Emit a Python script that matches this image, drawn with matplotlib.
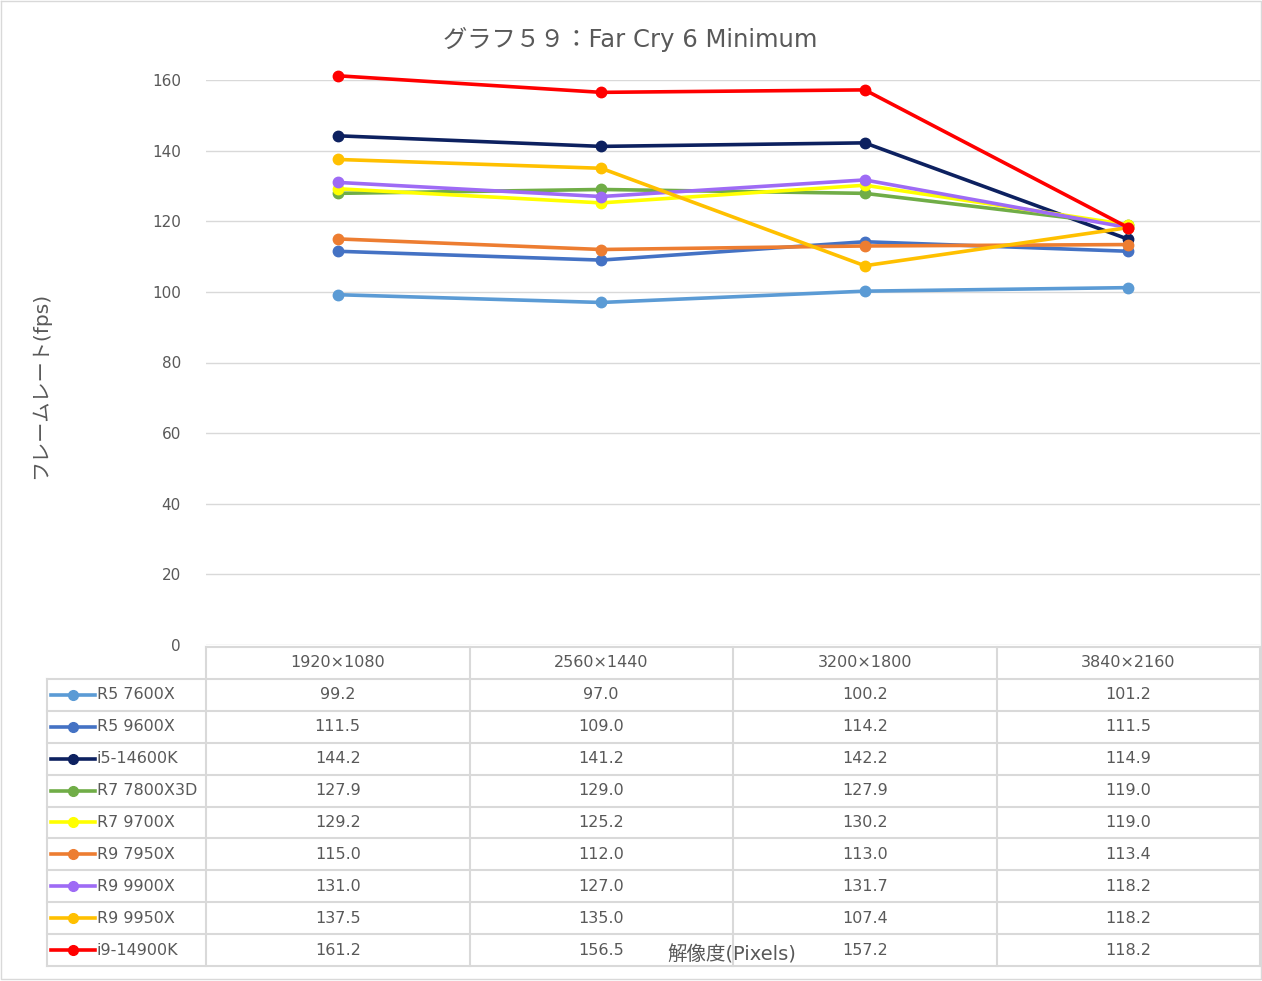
import numpy as np
import matplotlib
matplotlib.use('Agg')
import matplotlib.pyplot as plt
from matplotlib.lines import Line2D

plt.rcParams['font.family'] = ['DejaVu Sans', 'Noto Sans CJK JP']

# data
resolutions = ['1920×1080', '2560×1440', '3200×1800', '3840×2160']
cpus = ['R5 7600X', 'R5 9600X', 'i5-14600K', 'R7 7800X3D', 'R7 9700X',
        'R9 7950X', 'R9 9900X', 'R9 9950X', 'i9-14900K']
r5_7600x = [99.2, 97.0, 100.2, 101.2]
r5_9600x = [111.5, 109.0, 114.2, 111.5]
i5_14600k = [144.2, 141.2, 142.2, 114.9]
r7_7800x3d = [127.9, 129.0, 127.9, 119.0]
r7_9700x = [129.2, 125.2, 130.2, 119.0]
r9_7950x = [115.0, 112.0, 113.0, 113.4]
r9_9900x = [131.0, 127.0, 131.7, 118.2]
r9_9950x = [137.5, 135.0, 107.4, 118.2]
i9_14900k = [161.2, 156.5, 157.2, 118.2]
series = [r5_7600x, r5_9600x, i5_14600k, r7_7800x3d, r7_9700x,
          r9_7950x, r9_9900x, r9_9950x, i9_14900k]
colors = ['#5B9BD5', '#4472C4', '#0D2160', '#70AD47', '#FFFF00',
          '#ED7D31', '#9E6BF5', '#FFC000', '#FF0000']

W, H = 1262, 981
fig = plt.figure(figsize=(W / 100, H / 100), dpi=100)
txt = '#595959'
grid = '#D9D9D9'
fs = 11.5

# plot area in pixels
pl, pr, pt, pb = 206, 1260, 80, 645
ax = fig.add_axes([pl / W, 1 - pb / H, (pr - pl) / W, (pb - pt) / H])
x = np.arange(len(resolutions))
for vals, c in zip(series, colors):
    ax.plot(x, vals, color=c, lw=2.6, marker='o', ms=7.5, clip_on=False, zorder=3)
ax.set_xlim(-0.5, len(resolutions) - 0.5)
ax.set_ylim(0, 160)
ax.set_yticks(np.arange(0, 161, 20))
ax.set_xticks([])
ax.tick_params(axis='y', length=0, labelsize=11, labelcolor=txt, pad=18)
ax.grid(axis='y', color=grid, lw=1)
for s in ax.spines.values():
    s.set_visible(False)
ax.set_axisbelow(True)

fig.text(630 / W, 1 - 39 / H, 'グラフ５９：Far Cry 6 Minimum', ha='center', va='center',
         fontsize=17.5, color=txt)
fig.text(40 / W, 1 - 385 / H, 'フレームレート(fps)', ha='center', va='center',
         rotation=90, fontsize=14.5, color=txt)

# data table (overlay in pixel coords)
ov = fig.add_axes([0, 0, 1, 1], zorder=-1)
ov.set_xlim(0, W)
ov.set_ylim(H, 0)
ov.axis('off')
ov.patch.set_alpha(0)

col_w = (pr - pl) / len(resolutions)
leg_l = 47
top = 647
row_h = 31.9
n_rows = len(cpus) + 1
bottom = top + row_h * n_rows
lk = dict(color=grid, lw=1.5)
ov.plot([pl, pr], [top, top], **lk)
for k in range(1, n_rows + 1):
    yy = top + row_h * k
    ov.plot([leg_l, pr], [yy, yy], **lk)
ov.plot([leg_l, leg_l], [top + row_h, bottom], **lk)
for j in range(len(resolutions) + 1):
    xx = pl + col_w * j
    ov.plot([xx, xx], [top, bottom], **lk)

for j, r in enumerate(resolutions):
    ov.text(pl + col_w * (j + 0.5), top + row_h / 2, r, ha='center', va='center',
            fontsize=fs, color=txt)
for i, (name, vals, c) in enumerate(zip(cpus, series, colors)):
    yc = top + row_h * (i + 1.5)
    ov.add_line(Line2D([51, 95], [yc, yc], color=c, lw=2.6))
    ov.plot([73], [yc], marker='o', ms=7, color=c)
    ov.text(97, yc, name, ha='left', va='center', fontsize=fs, color=txt)
    for j, v in enumerate(vals):
        ov.text(pl + col_w * (j + 0.5), yc, f'{v:.1f}', ha='center', va='center',
                fontsize=fs, color=txt)

fig.text(732 / W, 1 - 955 / H, '解像度(Pixels)', ha='center', va='center',
         fontsize=14, color=txt)

# chart border
ov.plot([1, W - 1, W - 1, 1, 1], [1, 1, H - 2, H - 2, 1], color=grid, lw=1)

fig.savefig('out.png', dpi=100, facecolor='white')
